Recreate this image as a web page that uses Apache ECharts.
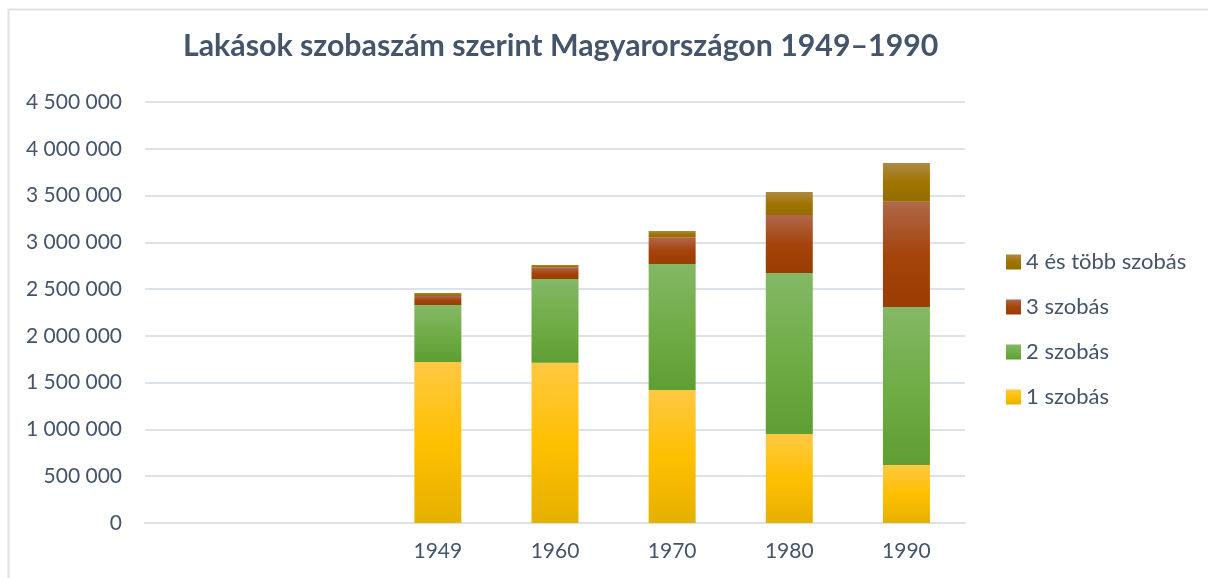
<!DOCTYPE html>
<html>
<head>
<meta charset="utf-8">
<script src="https://cdn.jsdelivr.net/npm/echarts@6/dist/echarts.min.js"></script>
<style>
html,body{margin:0;padding:0;background:#fff;}
#c{width:1208px;height:578px;}
</style>
</head>
<body>
<div id="c"></div>
<script>
const titleText = 'Lakások szobaszám szerint Magyarországon 1949–1990';
const categories = ['', ' ', '1949', '1960', '1970', '1980', '1990'];
const seriesNames = ['1 szobás', '2 szobás', '3 szobás', '4 és több szobás'];
const szoba1 = [null, null, 1721000, 1713000, 1422000, 951000, 620000];
const szoba2 = [null, null, 609000, 895000, 1346000, 1721000, 1689000];
const szoba3 = [null, null, 96000, 125000, 285000, 620000, 1125000];
const szoba4 = [null, null, 32000, 25000, 68000, 246000, 414000];
const yTicks = [0, 500000, 1000000, 1500000, 2000000, 2500000, 3000000, 3500000, 4000000, 4500000];

const FONT = 'Lato';
const TXT = '#44546A';

function grad(top, mid, bot) {
  return {type: 'linear', x: 0, y: 0, x2: 0, y2: 1,
    colorStops: [{offset: 0, color: top}, {offset: 0.5, color: mid}, {offset: 1, color: bot}]};
}
const colors = [
  grad('#FFC843', '#FFC000', '#E5B000'),
  grad('#84B866', '#70AD47', '#5E9E33'),
  grad('#B0684A', '#A4440C', '#9A3D00'),
  grad('#AD8A45', '#A07400', '#946C00')
];
const dataSets = [szoba1, szoba2, szoba3, szoba4];

function fmt(v) {
  return String(v).replace(/\B(?=(\d{3})+(?!\d))/g, ' ');
}

const chart = echarts.init(document.getElementById('c'), null, {renderer: 'canvas'});
chart.setOption({
  backgroundColor: '#fff',
  animation: false,
  title: {
    text: titleText,
    left: 178,
    top: 26,
    textStyle: {fontFamily: FONT, fontWeight: 'bold', fontSize: 30.3, color: TXT}
  },
  graphic: [{
    type: 'polyline',
    shape: {points: [[8.5, 600], [8.5, 9.5], [1220, 9.5]]},
    style: {stroke: '#DDE2EA', lineWidth: 2, fill: null},
    silent: true
  }],
  legend: {
    orient: 'vertical',
    left: 1001,
    top: 246,
    itemWidth: 15,
    itemHeight: 15,
    itemGap: 23,
    data: seriesNames.slice().reverse(),
    textStyle: {fontFamily: FONT, fontSize: 22, color: TXT},
    icon: 'rect'
  },
  grid: {left: 145, right: 243, top: 102, bottom: 55, containLabel: false},
  xAxis: {
    type: 'category',
    data: categories,
    axisLine: {show: true, lineStyle: {color: '#DDE2EA', width: 2}},
    axisTick: {show: false},
    axisLabel: {fontFamily: FONT, fontSize: 21, color: TXT, margin: 18}
  },
  yAxis: {
    type: 'value',
    min: yTicks[0],
    max: yTicks[yTicks.length - 1],
    interval: 500000,
    axisLine: {show: false},
    axisTick: {show: false},
    splitLine: {lineStyle: {color: '#DDE2EA', width: 2}},
    axisLabel: {fontFamily: FONT, fontSize: 21, color: TXT, margin: 23, formatter: fmt}
  },
  series: seriesNames.map((n, i) => ({
    name: n,
    type: 'bar',
    stack: 'total',
    barWidth: 47,
    data: dataSets[i],
    itemStyle: {color: colors[i]}
  }))
});
</script>
</body>
</html>
